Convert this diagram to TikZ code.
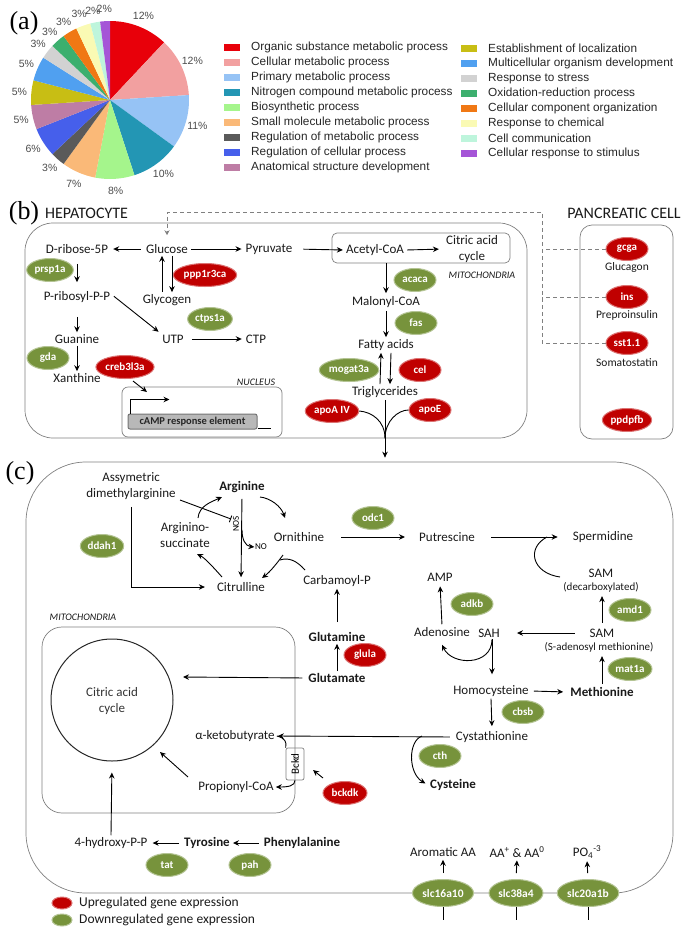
\documentclass[tikz,border=0pt]{standalone}
\usepackage{fontspec}
\setmainfont{Carlito}
\newfontfamily\arialf{Liberation Sans}
\newfontfamily\serf{Liberation Serif}
\usetikzlibrary{arrows.meta,shapes.geometric}
\definecolor{upc}{RGB}{192,0,0}
\definecolor{dnc}{RGB}{119,147,60}
\definecolor{boxc}{RGB}{128,128,128}
\definecolor{p1}{RGB}{232,0,10}
\definecolor{p2}{RGB}{242,160,160}
\definecolor{p3}{RGB}{150,195,245}
\definecolor{p4}{RGB}{35,150,180}
\definecolor{p5}{RGB}{165,245,140}
\definecolor{p6}{RGB}{250,185,120}
\definecolor{p7}{RGB}{90,90,90}
\definecolor{p8}{RGB}{70,95,235}
\definecolor{p9}{RGB}{190,125,165}
\definecolor{p10}{RGB}{200,190,20}
\definecolor{p11}{RGB}{80,160,240}
\definecolor{p12}{RGB}{210,210,210}
\definecolor{p13}{RGB}{60,175,110}
\definecolor{p14}{RGB}{240,120,20}
\definecolor{p15}{RGB}{250,250,180}
\definecolor{p16}{RGB}{190,245,220}
\definecolor{p17}{RGB}{165,85,215}
\begin{document}
\begin{tikzpicture}[x=1pt,y=-1pt,
  lbl/.style={inner sep=2pt, text=black!90, font=\fontsize{13}{16}\selectfont},
  blbl/.style={inner sep=2pt, text=black!90, font=\fontsize{13}{16}\selectfont\bfseries},
  mlbl/.style={inner sep=2pt, text=black!90, font=\fontsize{11.5}{13}\selectfont},
  slbl/.style={inner sep=1pt, text=black!90, font=\fontsize{11}{13}\selectfont},
  ital/.style={inner sep=1pt, text=black!90, font=\fontsize{10}{12}\selectfont\itshape},
  gene/.style={ellipse, inner sep=1pt, minimum width=42pt, minimum height=23pt, text=white, font=\fontsize{11}{12}\selectfont\bfseries, line width=1pt},
  upg/.style={gene, fill=upc, draw=upc!55!white},
  dng/.style={gene, fill=dnc, draw=dnc!55!white},
  arr/.style={line width=0.9pt, -{Stealth[length=6pt,width=5.5pt]}},
  ln/.style={line width=0.9pt},
  cellb/.style={draw=boxc, line width=0.7pt, inner sep=0pt},
  panel/.style={font=\serf\fontsize{26}{26}\selectfont, inner sep=0pt},
  ttl/.style={font=\fontsize{16}{18}\selectfont, inner sep=1pt, text=black!90},
  dsh/.style={draw=boxc, line width=0.8pt, dash pattern=on 4pt off 3pt},
  pct/.style={font=\arialf\fontsize{10.5}{11}\selectfont, text=black!70, inner sep=0pt},
  leg/.style={font=\arialf\fontsize{11.8}{13}\selectfont, inner sep=0pt, anchor=west, text=black!85}
]
\useasboundingbox (0,0) rectangle (691,932);

% ---------------- (a) ----------------
\node[panel] (la) at (24,23) {(a)};
\foreach \a/\b/\c/\t [count=\i] in {-90/-46.8/p1/12, -46.8/-3.6/p2/12, -3.6/36/p3/11, 36/72/p4/10, 72/100.8/p5/8, 100.8/126/p6/7, 126/136.8/p7/3, 136.8/158.4/p8/6, 158.4/176.4/p9/5, 176.4/194.4/p10/5, 194.4/212.4/p11/5, 212.4/223.2/p12/3, 223.2/234/p13/3, 234/244.8/p14/3, 244.8/255.6/p15/3, 255.6/262.8/p16/2, 262.8/270/p17/2}
{
  \fill[\c] (110,100) -- ++(\a:79) arc[start angle=\a, end angle=\b, radius=79] -- cycle;
  \node[pct] (pl\i) at ({110+91*cos((\a+\b)/2)},{100+91*sin((\a+\b)/2)}) {\t\%};
}
\foreach \t/\c [count=\i from 0] in {Organic substance metabolic process/p1, Cellular metabolic process/p2, Primary metabolic process/p3, Nitrogen compound metabolic process/p4, Biosynthetic process/p5, Small molecule metabolic process/p6, Regulation of metabolic process/p7, Regulation of cellular process/p8, Anatomical structure development/p9}
{
  \fill[\c] (224,{47+15.1*\i-3.5}) rectangle ++(16,7);
  \node[leg] (ll\i) at (251,{47+15.1*\i}) {\t};
}
\foreach \t/\c [count=\i from 0] in {Establishment of localization/p10, Multicellular organism development/p11, Response to stress/p12, Oxidation-reduction process/p13, Cellular component organization/p14, Response to chemical/p15, Cell communication/p16, Cellular response to stimulus/p17}
{
  \fill[\c] (461,{48+15.1*\i-3.5}) rectangle ++(16,7);
  \node[leg] (lr\i) at (488,{48+15.1*\i}) {\t};
}

% ---------------- (b) ----------------
\node[panel] (lb) at (24,213) {(b)};
\node[ttl, anchor=west] (hept) at (44,213) {HEPATOCYTE};
\node[cellb, rounded corners=28pt, minimum width=502pt, minimum height=215pt] (hep) at (276,330.5) {};
\node[cellb, rounded corners=12pt, minimum width=93pt, minimum height=214pt] (panc) at (626.5,332) {};
\node[ttl] (pant) at (624,213) {PANCREATIC CELL};
\node[cellb, rounded corners=5pt, minimum width=178pt, minimum height=30pt] (mitb) at (421,248) {};
\node[ital] (mitbt) at (482,275) {MITOCHONDRIA};
\node[cellb, rounded corners=6pt, minimum width=160pt, minimum height=50pt] (nuc) at (202,412) {};
\node[ital] (nuct) at (256,382) {NUCLEUS};
\node[draw=black!55, fill=black!28, rounded corners=2pt, line width=1pt, minimum width=129pt, minimum height=15pt, inner sep=0pt, text=black!85, font=\fontsize{10.5}{12}\selectfont\bfseries] (camp) at (192.5,421.5) {cAMP response element};

\node[lbl] (ribose) at (77,249) {D-ribose-5P};
\node[lbl] (glucose) at (167,249) {Glucose};
\node[lbl] (pyruvate) at (269,249) {Pyruvate};
\node[lbl] (acetyl) at (375,250) {Acetyl-CoA};
\node[lbl, align=center] (citb) at (472,249) {Citric acid\\cycle};
\node[lbl] (malonyl) at (386,302) {Malonyl-CoA};
\node[lbl] (fatty) at (386,345) {Fatty acids};
\node[lbl] (trig) at (385,392) {Triglycerides};
\node[lbl] (prib) at (77,297) {P-ribosyl-P-P};
\node[lbl] (glycogen) at (167,300) {Glycogen};
\node[lbl] (utp) at (173,339) {UTP};
\node[lbl] (ctp) at (256,339) {CTP};
\node[lbl] (guanine) at (77,339) {Guanine};
\node[lbl] (xanthine) at (77,378) {Xanthine};

\node[dng] (prsp) at (50,270) {prsp1a};
\node[upg, minimum width=52pt] (ppp) at (205,275) {ppp1r3ca};
\node[dng] (ctps) at (210,319) {ctps1a};
\node[dng] (gda) at (48,358) {gda};
\node[upg, minimum width=48pt] (creb) at (125,367) {creb3l3a};
\node[dng] (acaca) at (415,280) {acaca};
\node[dng] (fas) at (416,323) {fas};
\node[dng, minimum width=46pt] (mogat) at (349,370) {mogat3a};
\node[upg] (cel) at (420,370) {cel};
\node[upg, minimum width=46pt] (apoa) at (332,411) {apoA IV};
\node[upg] (apoe) at (430,410) {apoE};

\node[upg] (gcga) at (627,249) {gcga};
\node[mlbl] (glucagon) at (627,267) {Glucagon};
\node[upg] (ins) at (627,297) {ins};
\node[mlbl] (prepro) at (627,315) {Preproinsulin};
\node[upg] (sst) at (627,343) {sst1.1};
\node[mlbl] (somato) at (627,363) {Somatostatin};
\node[upg] (ppdpfb) at (627,420) {ppdpfb};

% dashed hormone signalling
\coordinate (dtop) at (542,212);
\draw[dsh] (gcga.west) -- (gcga.west -| dtop);
\draw[dsh] (ins.west) -- (ins.west -| dtop);
\draw[dsh, -{Stealth[length=5pt,width=5pt]}, shorten >=7pt] (sst.west) -| (dtop) -| (glucose.north);

% arrows (b)
\draw[arr, shorten <=3pt, shorten >=3pt] (glucose.west) -- (ribose.east);
\draw[arr, shorten <=1pt, shorten >=2pt] (glucose.east) -- (pyruvate.west);
\draw[arr, shorten <=9pt, shorten >=1pt] (pyruvate.east) -- (acetyl.west);
\draw[arr, shorten <=1pt, shorten >=5pt] (acetyl.east) -- (citb.west);
\draw[arr, shorten >=1pt] (malonyl.north |- mitb.south) -- (malonyl.north);
\draw[arr, shorten <=1pt, shorten >=0pt] (malonyl.south) -- (fatty.north);
\draw[arr] ([xshift=-5pt]trig.north) -- ([xshift=-5pt]fatty.south);
\draw[arr] ([xshift=5pt]fatty.south) -- ([xshift=5pt]trig.north);
\draw[ln] (apoa.east) .. controls (372,412) and (385,421) .. (trig.south |- hep.south);
\draw[ln] (apoe.west) .. controls (398,410) and (385,421) .. (trig.south |- hep.south);
\draw[arr, shorten <=8pt, shorten >=7pt] (ribose.south) -- (prib.north);
\draw[arr, shorten <=12pt] (prib.south) -- (guanine.north);
\draw[arr] (guanine.south) -- (xanthine.north);
\draw[arr] ([xshift=-5pt]glycogen.north) -- ([xshift=-5pt]glucose.south);
\draw[arr] ([xshift=5pt]glucose.south) -- ([xshift=5pt]glycogen.north);
\draw[arr, shorten <=2pt, shorten >=2pt] ([yshift=2pt]prib.east) -- ([yshift=6pt]utp.west);
\draw[arr, shorten <=6pt, shorten >=2pt] (utp.east) -- (ctp.west);
\coordinate (nucin) at (147,392);
\draw[arr] ([shift={(8,14)}]creb.center) -- (nucin);
\draw[arr] ([xshift=3pt]camp.north west) -- ++(0,-14) -- ++(39,0);
\draw[ln] ([yshift=1.5pt]camp.south east) -- ++(13,0);

% ---------------- (c) ----------------
\node[panel] (lc) at (20,473) {(c)};
\node[cellb, rounded corners=60pt, minimum width=647pt, minimum height=431pt] (cbox) at (349.5,677.5) {};
\draw[arr, shorten >=4pt] (trig.south) -- (trig.south |- cbox.north);
\node[cellb, rounded corners=20pt, minimum width=253pt, minimum height=186pt] (mitc) at (168.5,720) {};
\node[ital] (mitct) at (83,617) {MITOCHONDRIA};
\node[circle, draw=black!85, line width=1pt, minimum size=122pt, inner sep=0pt] (tca) at (112,700) {};
\node[lbl, align=center, text=black!80] (tcat) at (112,701) {Citric acid\\cycle};

\node[lbl, align=center] (adma) at (131,486) {Assymetric\\dimethylarginine};
\node[blbl] (arg) at (242,487) {Arginine};
\node[lbl, align=center] (argsuc) at (185,535) {Arginino-\\succinate};
\node[lbl] (orn) at (299,537) {Ornithine};
\node[lbl] (cit) at (241,587) {Citrulline};
\node[lbl] (carb) at (337,581) {Carbamoyl-P};
\node[inner sep=0.5pt, rotate=90, font=\fontsize{9}{10}\selectfont] (nos) at (236,524) {NOS};
\node[inner sep=0.5pt, font=\fontsize{9}{10}\selectfont] (no) at (261,547) {NO};
\node[dng] (ddah) at (102,546) {ddah1};
\node[dng] (odc) at (373,518) {odc1};
\node[lbl] (put) at (447,537) {Putrescine};
\node[lbl] (sperm) at (603,537) {Spermidine};
\node[lbl] (samd) at (601,573) {SAM};
\node[slbl] (samdt) at (601,587) {(decarboxylated)};
\node[dng] (amd) at (630,610) {amd1};
\node[lbl] (amp) at (440,577) {AMP};
\node[dng] (adkb) at (472,604) {adkb};
\node[lbl] (aden) at (442,632) {Adenosine};
\node[lbl] (sah) at (489,633) {SAH};
\node[lbl] (sams) at (602,633) {SAM};
\node[slbl] (samt) at (599,647) {(S-adenosyl methionine)};
\node[blbl] (gln) at (337,637) {Glutamine};
\node[upg] (glula) at (365,655) {glula};
\node[blbl] (glu) at (337,678) {Glutamate};
\node[lbl] (homo) at (491,691) {Homocysteine};
\node[blbl] (meth) at (602,692) {Methionine};
\node[dng] (mat) at (630,669) {mat1a};
\node[dng] (cbsb) at (523,712) {cbsb};
\node[lbl] (cysta) at (492,737) {Cystathionine};
\node[dng] (cth) at (440,756) {cth};
\node[blbl] (cyst) at (453,785) {Cysteine};
\node[lbl] (aketo) at (235,736) {α-ketobutyrate};
\node[draw=boxc, rounded corners=2pt, rotate=90, minimum width=32pt, minimum height=18pt, inner sep=0pt, font=\fontsize{11}{12}\selectfont, line width=0.7pt] (bckd) at (295,764) {Bckd};
\node[lbl] (prop) at (236,787) {Propionyl-CoA};
\node[upg, minimum width=44pt] (bckdk) at (345,793) {bckdk};
\node[lbl] (hpp) at (111,843) {4-hydroxy-P-P};
\node[blbl] (tyr) at (207,843) {Tyrosine};
\node[blbl] (phe) at (302,843) {Phenylalanine};
\node[dng] (tat) at (167,865) {tat};
\node[dng] (pah) at (250,865) {pah};

\node[lbl] (arom) at (443,852) {Aromatic AA};
\node[lbl] (aap) at (517,852) {AA\textsuperscript{+} \& AA\textsuperscript{0}};
\node[lbl] (po4) at (587,852) {PO\textsubscript{4}\textsuperscript{-3}};
\node[dng, minimum width=54pt, minimum height=27pt, font=\fontsize{11.5}{12}\selectfont\bfseries] (slca) at (443,893) {slc16a10};
\node[dng, minimum width=54pt, minimum height=27pt, font=\fontsize{11.5}{12}\selectfont\bfseries] (slcb) at (516,893) {slc38a4};
\node[dng, minimum width=54pt, minimum height=27pt, font=\fontsize{11.5}{12}\selectfont\bfseries] (slcc) at (588,893) {slc20a1b};

% arrows (c)
\draw[ln, -{Bar[width=7pt]}] ([shift={(49,14)}]adma.center) -- ([shift={(-11,32)}]arg.center);
\draw[arr, shorten <=5pt, shorten >=10pt] (adma.south) |- (cit.west);
\draw[arr] ([shift={(13,-17)}]argsuc.center) .. controls (199,506) and (211,502) .. ([shift={(-20,10)}]arg.center);
\draw[arr] ([shift={(18,10)}]arg.center) .. controls (270,498) and (281,506) .. ([shift={(-14,-19)}]orn.center);
\draw[arr, shorten <=4pt, shorten >=3pt] (arg.south) -- (cit.north);
\draw[arr] ([shift={(0,43)}]arg.center) .. controls (242,539) and (245,546) .. (no.west);
\draw[arr] ([shift={(-16,18)}]orn.center) .. controls (278,562) and (270,572) .. ([shift={(21,-9)}]cit.center);
\draw[ln] ([shift={(-32,-11)}]carb.center) .. controls (297,561) and (289,557) .. (280,560);
\draw[arr] ([shift={(-19,-10)}]cit.center) .. controls (214,568) and (205,558) .. ([shift={(12,19)}]argsuc.center);
\draw[arr, shorten <=15pt, shorten >=12pt] (orn.east) -- (put.west);
\draw[arr, shorten <=14pt, shorten >=13pt] (put.east) -- (sperm.west);
\coordinate (spj) at (547,537);
\draw[ln] ([shift={(-41,-10)}]samdt.center) .. controls (532,573) and (526,548) .. (spj);
\draw[arr, shorten <=4pt, shorten >=3pt] (sams.north) -- (sams.north |- samdt.south);
\draw[arr, shorten <=13pt, shorten >=15pt] (sams.west) -- (sah.east);
\draw[arr, shorten <=1pt, shorten >=3pt] (aden.north) -- (amp.south);
\draw[arr] ([xshift=3pt]sah.south) .. controls (492,666) and (452,666) .. ([yshift=-6pt]aden.south);
\draw[arr, shorten >=9pt] ([xshift=3pt]sah.south) -- ([xshift=3pt]sah.south |- homo.north);
\draw[arr, shorten <=3pt, shorten >=5pt] (homo.east) -- (meth.west);
\draw[arr, shorten <=1pt, shorten >=3pt] (meth.north) -- (meth.north |- samt.south);
\draw[arr, shorten >=3pt] (homo.south) -- (cysta.north);
\draw[arr, shorten <=4pt, shorten >=1pt] (cysta.west) -- (aketo.east);
\draw[arr, shorten >=3pt] (422,736) .. controls (408,741) and (408,773) .. (cyst.west);
\draw[ln] (aketo.east) .. controls (285,738) and (287,742) .. (bckd.north east);
\draw[arr] (bckd.west) .. controls (295,786) and (288,787) .. (prop.east);
\draw[arr] ([shift={(-22,-15)}]bckdk.center) -- ([shift={(18,6)}]bckd.center);
\draw[arr] ([shift={(-48,-10)}]prop.center) -- ([shift={(48,52)}]tca.center);
\draw[arr, shorten <=4pt] (glu.west) -- ([shift={(71,-23)}]tca.center);
\draw[arr] (glu.north) -- (gln.south);
\draw[arr, shorten <=8pt] (gln.north) -- (carb.south);
\draw[arr, shorten >=11pt] (hpp.north) -- (tca.south);
\draw[arr, shorten <=3pt, shorten >=3pt] (tyr.west) -- (hpp.east);
\draw[arr, shorten <=3pt, shorten >=1pt] (phe.west) -- (tyr.east);
\foreach \s/\t in {slca/arom, slcb/aap, slcc/po4}{
  \draw[arr, shorten <=6pt, shorten >=1pt] (\s.north) -- (\t.south);
  \draw[ln] (\s.south) -- ++(0,13);
}

% legend
\node[upg, minimum width=20pt, minimum height=12pt] (legu) at (62,903) {};
\node[lbl, anchor=west, font=\fontsize{13.5}{15}\selectfont] (legut) at (77,903) {Upregulated gene expression};
\node[dng, minimum width=20pt, minimum height=12pt] (legd) at (62,920) {};
\node[lbl, anchor=west, font=\fontsize{13.5}{15}\selectfont] (legdt) at (77,920) {Downregulated gene expression};
\end{tikzpicture}
\end{document}
